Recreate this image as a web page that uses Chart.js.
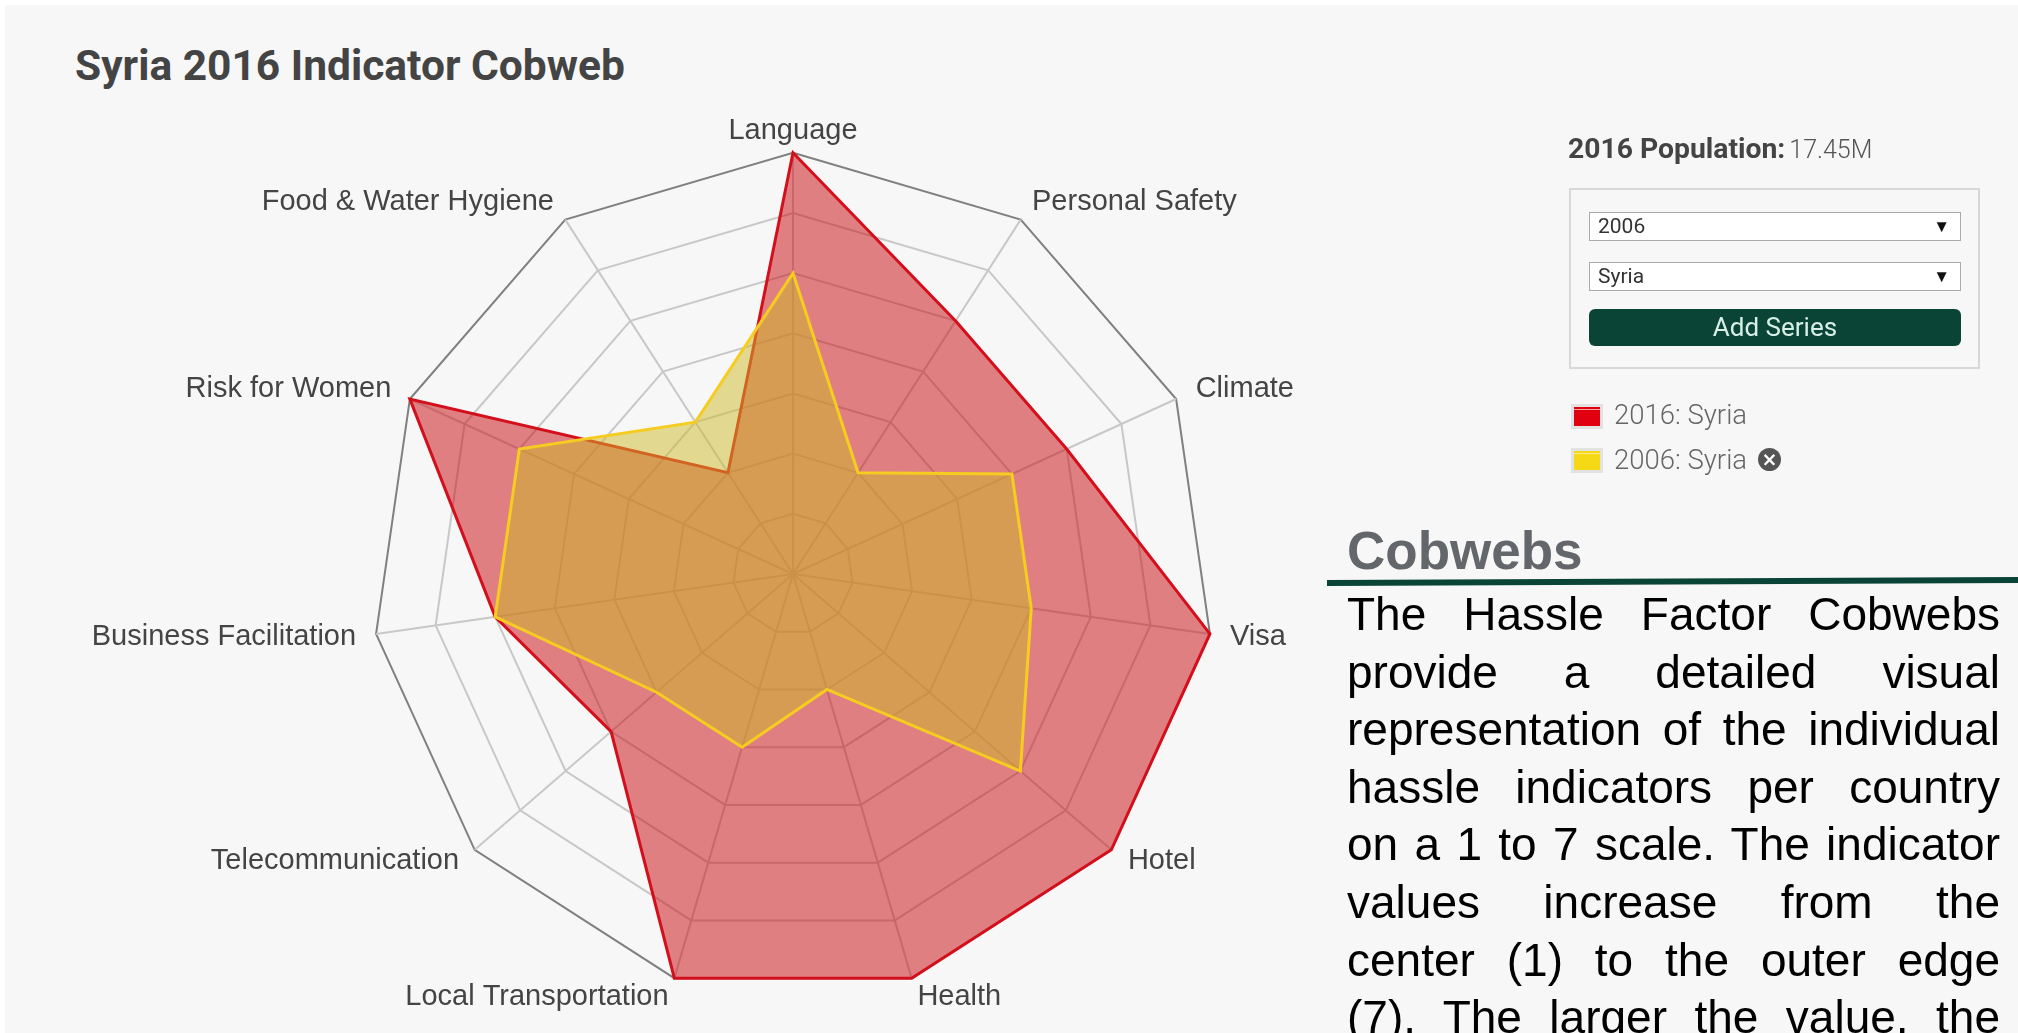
<!DOCTYPE html>
<html>
<head>
<meta charset="utf-8">
<title>Syria 2016 Indicator Cobweb</title>
<script src="https://cdn.jsdelivr.net/npm/chart.js@4"></script>
<style>
html, body { margin: 0; padding: 0; background: #fff; overflow: hidden; }
#page { position: absolute; left: 5px; top: 5px; width: 2013px; height: 1028px; background: #f7f7f7; }
.abs { position: absolute; white-space: nowrap; }
#wrap { position: absolute; left: 0; top: 98px; width: 1576px; height: 925px; }
#title { left: 70px; top: 36px; font: bold 42.5px Roboto, sans-serif; color: #444; }
#pop { left: 1563px; top: 127px; font: 300 25px Roboto, sans-serif; color: #555; }
#pop b { font-weight: 700; font-size: 28.3px; color: #444; margin-right: 4px; }
#box { left: 1564px; top: 183px; width: 407px; height: 177px; border: 2px solid #d8d8d8; }
.sel { position: absolute; left: 1584px; width: 362px; height: 27px; background: #fff; border: 1px solid #aaa; font: 21px Roboto, sans-serif; color: #333; line-height: 27px; padding-left: 8px; }
.sel span { position: absolute; right: 10px; top: 0; font-size: 17px; color: #111; }
#btn { left: 1584px; top: 304px; width: 372px; height: 37px; background: #0a4437; border-radius: 6px; color: #d8efe6; font: 26px Roboto, sans-serif; text-align: center; line-height: 37px; }
.sw { position: absolute; left: 1566px; width: 26px; height: 19px; border: 3px solid #e2e2e2; }
.lg { left: 1609px; font: 300 27.5px Roboto, sans-serif; color: #666; }
#x { left: 1753px; top: 443px; width: 23px; height: 23px; border-radius: 50%; background: #555; color: #fff; font: bold 19px/23px "DejaVu Sans", sans-serif; text-align: center; }
#h { left: 1342px; top: 515px; font: bold 53px "Liberation Sans", sans-serif; color: #63666a; }
#rule { left: 1322px; top: 575px; width: 700px; height: 6px; background: #0a4437; transform: rotate(-0.25deg); transform-origin: left center; }
#txt { position: absolute; left: 1342px; top: 581px; width: 653px; font: 46px/57.6px "Liberation Sans", sans-serif; color: #000; }
#txt div { text-align: justify; text-align-last: justify; white-space: nowrap; }
</style>
</head>
<body>
<div id="page">
  <div class="abs" id="wrap"><canvas id="cobweb"></canvas></div>
  <div class="abs" id="title">Syria 2016 Indicator Cobweb</div>
  <div class="abs" id="pop"><b>2016 Population:</b>17.45M</div>
  <div class="abs" id="box"></div>
  <div class="sel" style="top:207px">2006<span>&#9660;</span></div>
  <div class="sel" style="top:257px">Syria<span>&#9660;</span></div>
  <div class="abs" id="btn">Add Series</div>
  <div class="sw" style="top:399px;background:linear-gradient(#e0000f 2px,#f4a0a0 2px,#f4a0a0 3px,#e0000f 3px)"></div>
  <div class="abs lg" style="top:393px">2016: Syria</div>
  <div class="sw" style="top:443px;background:linear-gradient(#f5d816 2px,#f9ec90 2px,#f9ec90 3px,#f5d816 3px)"></div>
  <div class="abs lg" style="top:438px">2006: Syria</div>
  <div class="abs" id="x">&#215;</div>
  <div class="abs" id="h">Cobwebs</div>
  <div class="abs" id="rule"></div>
  <div id="txt"></div>
</div>
<script>
// chart data (scale 1 to 7, center ring is 0)
const indicators = ['Language', 'Personal Safety', 'Climate', 'Visa', 'Hotel', 'Health',
    'Local Transportation', 'Telecommunication', 'Business Facilitation', 'Risk for Women', 'Food & Water Hygiene'];
const syria2016 = [7, 5, 5, 7, 7, 7, 7, 4, 5, 7, 2];
const syria2006 = [5, 2, 4, 4, 5, 2, 3, 3, 5, 5, 3];
const scaleMax = 7;

const bodyLines = [
    'The Hassle Factor Cobwebs',
    'provide a detailed visual',
    'representation of the individual',
    'hassle indicators per country',
    'on a 1 to 7 scale. The indicator',
    'values increase from the',
    'center (1) to the outer edge',
    '(7). The larger the value, the'
];

bodyLines.forEach(line => {
    const el = document.createElement('div');
    el.textContent = line;
    document.getElementById('txt').appendChild(el);
});

var ctx = document.getElementById('cobweb').getContext('2d');

// Plugin to nudge the point labels, the original sits them closer to the vertices
const labelNudgePlugin = {
    id: 'labelNudgePlugin',
    afterUpdate(chart) {
        const nudgeX = [0, 0, 6, 6, 4, -4, 4, -3, -6, -5, 0];
        const nudgeY = [2, 5, 10, -15, -10, -4, -4, -10, -15, 10, 5];
        const items = chart.scales.r._pointLabelItems || [];
        items.forEach((item, i) => {
            item.x += nudgeX[i];
            item.y += nudgeY[i];
        });
    }
};

new Chart(ctx, {
    type: 'radar',
    data: {
        labels: indicators,
        datasets: [{
            label: '2006: Syria',
            data: syria2006,
            borderColor: '#f6cc20',
            backgroundColor: 'rgba(207,185,39,0.5)',
            borderWidth: 3,
            pointRadius: 0,
            order: 1
        }, {
            label: '2016: Syria',
            data: syria2016,
            borderColor: '#d40f1c',
            backgroundColor: 'rgba(201,7,13,0.5)',
            borderWidth: 3,
            pointRadius: 0,
            order: 2
        }]
    },
    options: {
        responsive: true,
        maintainAspectRatio: false,
        animation: false,
        plugins: {
            legend: { display: false },
            tooltip: { enabled: false }
        },
        scales: {
            r: {
                min: 0,
                max: scaleMax,
                ticks: { display: false, stepSize: 1 },
                grid: {
                    // tick 0 is the center, so the outer ring has index scaleMax
                    color: c => c.index === scaleMax ? '#808080' : '#c8c8c8',
                    lineWidth: 2
                },
                angleLines: { color: '#c8c8c8', lineWidth: 2 },
                pointLabels: {
                    color: '#444',
                    padding: 6,
                    font: { family: 'Liberation Sans', size: 29 },
                    // labels sit further out sideways than up and down
                    callback: (label, i) => i === 0 ? label : (i <= 5 ? ' ' + label : label + ' ')
                }
            }
        }
    },
    plugins: [labelNudgePlugin]
});
</script>
</body>
</html>
